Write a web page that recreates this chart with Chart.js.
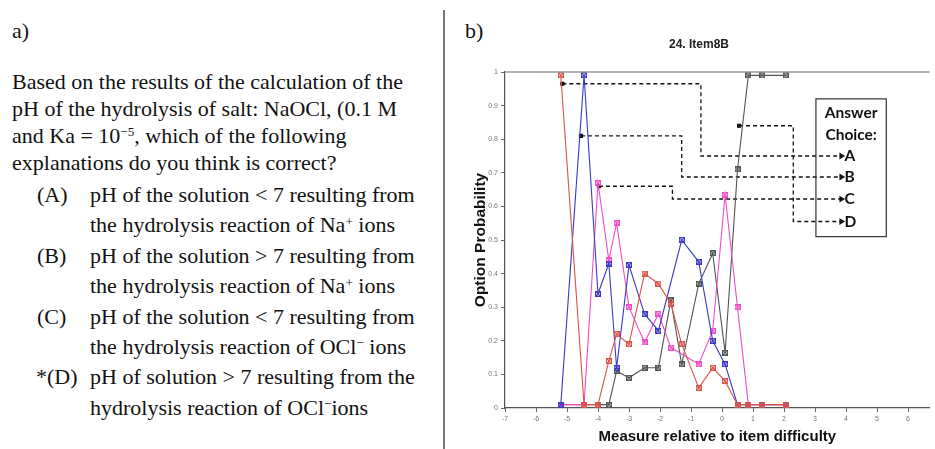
<!DOCTYPE html>
<html lang="en">
<head>
<meta charset="UTF-8">
<script src="https://cdn.jsdelivr.net/npm/chart.js"></script>
<style>
  body { margin: 0; background: #fff; width: 935px; height: 449px; overflow: hidden; position: relative; }
  .serif { font-family: 'Liberation Serif', 'Times New Roman', serif; font-size: 22px; color: #111; white-space: nowrap; }
  sup { font-size: 0.6em; line-height: 0; position: relative; top: -0.5em; vertical-align: baseline; }
  #q { position: absolute; left: 12px; top: 68px; line-height: 27px; }
  #opts { position: absolute; left: 0; top: 180px; line-height: 30.4px; }
  .o { position: relative; }
  .k { position: absolute; left: 37px; }
  .t { display: block; margin-left: 90px; }
  #sep { position: absolute; left: 443px; top: 10px; width: 2px; height: 439px; background: #777; }
  #wrap { position: absolute; left: 465px; top: 0; width: 470px; height: 449px; }
</style>
</head>
<body>
<div class="serif" style="position:absolute;left:12px;top:18px;">a)</div>
<div id="q" class="serif">Based on the results of the calculation of the<br>pH of the hydrolysis of salt: NaOCl, (0.1 M<br>and Ka = 10<sup>−5</sup>, which of the following<br>explanations do you think is correct?</div>
<div id="opts" class="serif">
  <div class="o"><span class="k">(A)</span><span class="t">pH of the solution &lt; 7 resulting from<br>the hydrolysis reaction of Na<sup>+</sup> ions</span></div>
  <div class="o"><span class="k">(B)</span><span class="t">pH of the solution &gt; 7 resulting from<br>the hydrolysis reaction of Na<sup>+</sup> ions</span></div>
  <div class="o"><span class="k">(C)</span><span class="t">pH of the solution &lt; 7 resulting from<br>the hydrolysis reaction of OCl<sup>−</sup> ions</span></div>
  <div class="o"><span class="k" style="left:36px">*(D)</span><span class="t">pH of solution &gt; 7 resulting from the<br>hydrolysis reaction of OCl<sup>−</sup>ions</span></div>
</div>
<div id="sep"></div>
<div class="serif" style="position:absolute;left:465px;top:18px;">b)</div>
<div id="wrap"><canvas id="myChart"></canvas></div>
<script>
// measure relative to item difficulty (bins)
const measures = [-5.2, -4.45, -4.0, -3.65, -3.4, -3.0, -2.5, -2.05, -1.65, -1.3, -0.75, -0.3, 0.1, 0.5, 0.85, 1.3, 2.05]
// option probabilities
const optA = [0.99, 0.01, 0.01, 0.14, 0.22, 0.19, 0.40, 0.37, 0.31, 0.19, 0.06, 0.12, 0.08, 0.01, 0.01, 0.01, 0.01]
const optB = [0.01, 0.99, 0.34, 0.43, 0.12, 0.425, 0.28, 0.23, null, 0.50, 0.435, 0.20, 0.13, 0.01, 0.01, 0.01, 0.01]
const optC = [0.01, 0.01, 0.67, 0.44, 0.55, 0.30, 0.195, 0.28, 0.18, null, 0.13, 0.23, 0.635, 0.30, 0.01, 0.01, 0.01]
const optD = [0.01, 0.01, 0.01, 0.01, 0.11, 0.09, 0.12, 0.12, 0.32, 0.13, 0.37, 0.46, 0.165, 0.71, 0.99, 0.99, 0.99]
const choices = ['A', 'B', 'C', 'D']
const colors = ['#d9534a', '#3a3ac4', '#f04cc8', '#4f5550']
// dashed connectors from each curve to the answer-choice box
const connA = [[-5.15, 0.965], [-0.68, 0.965], [-0.68, 0.75], [3.85, 0.75]]
const connB = [[-4.55, 0.81], [-1.3, 0.81], [-1.3, 0.6875], [3.85, 0.6875]]
const connC = [[-3.97, 0.66], [-1.6, 0.66], [-1.6, 0.622], [3.85, 0.622]]
const connD = [[0.55, 0.84], [2.3, 0.84], [2.3, 0.555], [3.85, 0.555]]
const xTicks = [-7, -6, -5, -4, -3, -2, -1, 0, 1, 2, 3, 4, 5, 6]

function marker(col) {
    const c = document.createElement('canvas')
    c.width = 6; c.height = 6
    const g = c.getContext('2d')
    g.globalAlpha = 0.3; g.fillStyle = col; g.fillRect(0, 0, 6, 6)
    g.globalAlpha = 1; g.strokeStyle = col; g.lineWidth = 1
    g.strokeRect(0.5, 0.5, 5, 5)
    g.beginPath(); g.moveTo(1, 1); g.lineTo(5, 5); g.moveTo(5, 1); g.lineTo(1, 5); g.stroke()
    return c
}

function series(vals, i) {
    return {
        label: choices[i],
        data: measures.map((m, j) => ({ x: m, y: vals[j] })),
        borderColor: colors[i],
        borderWidth: 1.1,
        pointStyle: marker(colors[i]),
        pointRadius: 3,
        spanGaps: true,
        tension: 0
    }
}

function connector(pts) {
    return {
        data: pts.map(p => ({ x: p[0], y: p[1] })),
        borderColor: '#111',
        backgroundColor: '#111',
        borderWidth: 1.3,
        borderDash: [4, 3],
        pointStyle: ctx => ctx.dataIndex === 3 ? 'triangle' : 'rect',
        pointRotation: 90,
        pointRadius: ctx => ctx.dataIndex === 0 ? 2 : (ctx.dataIndex === 3 ? 2.6 : 0),
        tension: 0
    }
}

const boxPlugin = {
    id: 'answerBox',
    afterDatasetsDraw(chart) {
        const { ctx, chartArea, scales: { x, y } } = chart
        ctx.save()
        // top frame line
        ctx.strokeStyle = '#999'
        ctx.lineWidth = 1.5
        ctx.beginPath()
        ctx.moveTo(chartArea.left, chartArea.top)
        ctx.lineTo(chartArea.right, chartArea.top)
        ctx.stroke()
        // legend box
        const l = x.getPixelForValue(3.03), r = x.getPixelForValue(5.3)
        const t = y.getPixelForValue(0.92), b = y.getPixelForValue(0.51)
        ctx.strokeStyle = '#333'
        ctx.lineWidth = 1.2
        ctx.strokeRect(l, t, r - l, b - t)
        ctx.fillStyle = '#111'
        ctx.font = 'bold 15.5px Lato, "Open Sans", sans-serif'
        ctx.textAlign = 'center'
        ctx.textBaseline = 'middle'
        const cx = (l + r) / 2
        ctx.fillText('Answer', cx, y.getPixelForValue(0.878))
        ctx.fillText('Choice:', cx, y.getPixelForValue(0.8125))
        ctx.textAlign = 'left'
        const lv = [0.75, 0.6875, 0.622, 0.555]
        choices.forEach((c, i) => ctx.fillText(c, x.getPixelForValue(3.95), y.getPixelForValue(lv[i])))
        ctx.restore()
    }
}

new Chart(document.getElementById('myChart'), {
    type: 'line',
    data: {
        datasets: [series(optA, 0), series(optB, 1), series(optC, 2), series(optD, 3),
                   connector(connA), connector(connB), connector(connC), connector(connD)]
    },
    options: {
        responsive: true,
        maintainAspectRatio: false,
        animation: false,
        layout: { padding: { left: 0, right: 2, top: 0, bottom: 0 } },
        plugins: {
            legend: { display: false },
            tooltip: { enabled: false },
            title: {
                display: true,
                text: '24. Item8B',
                color: '#222',
                font: { family: '"Liberation Sans", Arial, sans-serif', size: 12, weight: 'bold', lineHeight: 1.2 },
                padding: { top: 37, bottom: 20.6 }
            }
        },
        scales: {
            x: {
                type: 'linear',
                min: -7,
                max: 6.7,
                afterFit(scale) { scale.height = 41 },
                afterBuildTicks(scale) { scale.ticks = xTicks.map(v => ({ value: v })) },
                ticks: { color: '#777', font: { size: 7 }, padding: 3 },
                grid: { display: true, drawOnChartArea: false, drawTicks: true, tickLength: 4, color: '#666' },
                border: { color: '#555', width: 1.2 },
                title: {
                    display: true,
                    text: 'Measure relative to item difficulty',
                    color: '#111',
                    font: { family: '"Liberation Sans", Arial, sans-serif', size: 15, weight: 'bold' },
                    padding: { top: 0, bottom: 3 }
                }
            },
            y: {
                min: 0,
                max: 1,
                afterFit(scale) { scale.width = 40 },
                ticks: {
                    stepSize: 0.1,
                    color: '#777',
                    font: { size: 7 },
                    padding: 3,
                    callback: v => (v === 0 || v === 1) ? String(v) : v.toFixed(1)
                },
                grid: { display: true, drawOnChartArea: false, drawTicks: true, tickLength: 4, color: '#666' },
                border: { color: '#555', width: 1.2 },
                title: {
                    display: true,
                    text: 'Option Probability',
                    color: '#111',
                    font: { family: '"Liberation Sans", Arial, sans-serif', size: 15.5, weight: 'bold' },
                    padding: { top: 6, bottom: 0 }
                }
            }
        }
    },
    plugins: [boxPlugin]
})
</script>
</body>
</html>
